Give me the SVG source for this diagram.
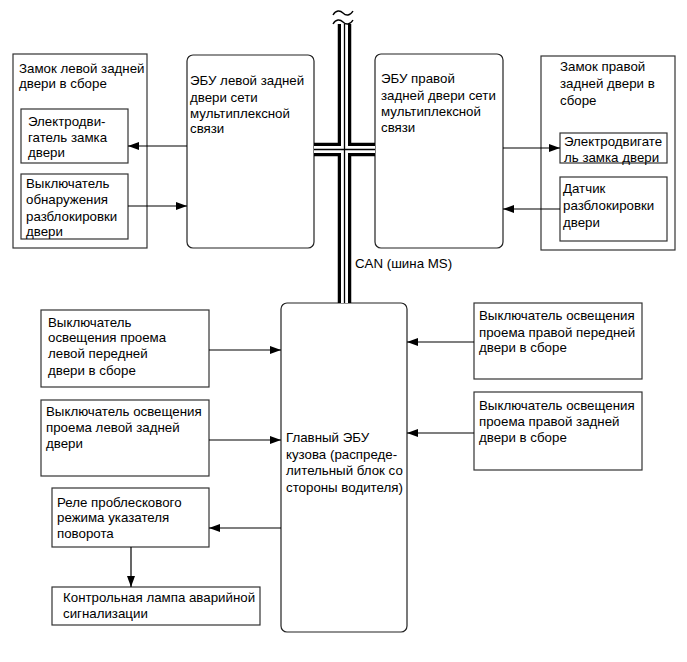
<svg xmlns="http://www.w3.org/2000/svg" width="687" height="662" viewBox="0 0 687 662">
<style>
  .box { fill: #fff; stroke: #333; stroke-width: 1.2; }
  .ecu { fill: #fff; stroke: #222; stroke-width: 1.2; }
  .t { font-family: "Liberation Sans", Arial, sans-serif; font-size: 13.3px; fill: #000; }
  .arr { stroke: #000; stroke-width: 1.2; fill: none; marker-end: url(#ah); }
  .busB { stroke: #000; fill: none; }
  .busW { stroke: #fff; fill: none; }
  .sq { stroke: #000; stroke-width: 1.4; fill: none; }
</style>
<defs>
  <marker id="ah" markerUnits="userSpaceOnUse" markerWidth="12" markerHeight="8" refX="11" refY="4" orient="auto">
    <path d="M0,0 L11,4 L0,8 z" fill="#000"/>
  </marker>
</defs>
<rect width="687" height="662" fill="#fff"/>

<g id="left-lock">
  <rect class="box" x="13" y="54" width="134" height="194"/>
  <text class="t"><tspan x="19" y="73">Замок левой задней</tspan><tspan x="19" y="88">двери в сборе</tspan></text>
</g>
<g id="left-motor">
  <rect class="box" x="21" y="109" width="107" height="54"/>
  <text class="t"><tspan x="28" y="126">Электродви-</tspan><tspan x="28" y="142">гатель замка</tspan><tspan x="28" y="157">двери</tspan></text>
</g>
<g id="left-switch">
  <rect class="box" x="21" y="174" width="107" height="65"/>
  <text class="t"><tspan x="26" y="188">Выключатель</tspan><tspan x="26" y="204">обнаружения</tspan><tspan x="26" y="221">разблокировки</tspan><tspan x="26" y="236">двери</tspan></text>
</g>
<g id="left-ecu">
  <rect class="ecu" x="187" y="55" width="127" height="193" rx="6"/>
  <text class="t"><tspan x="190" y="85">ЭБУ левой задней</tspan><tspan x="190" y="102">двери сети</tspan><tspan x="190" y="118">мультиплексной</tspan><tspan x="190" y="133">связи</tspan></text>
</g>
<g id="right-ecu">
  <rect class="ecu" x="375" y="54" width="128" height="194" rx="6"/>
  <text class="t"><tspan x="381" y="83">ЭБУ правой</tspan><tspan x="381" y="100">задней двери сети</tspan><tspan x="381" y="116">мультиплексной</tspan><tspan x="381" y="132">связи</tspan></text>
</g>
<g id="right-lock">
  <rect class="box" x="541" y="56" width="134" height="194"/>
  <text class="t"><tspan x="560" y="71">Замок правой</tspan><tspan x="560" y="88">задней двери в</tspan><tspan x="560" y="105">сборе</tspan></text>
</g>
<g id="right-motor">
  <rect class="box" x="560" y="133" width="107" height="30"/>
  <text class="t"><tspan x="564" y="146">Электродвигате</tspan><tspan x="564" y="162">ль замка двери</tspan></text>
</g>
<g id="right-sensor">
  <rect class="box" x="560" y="177" width="107" height="64"/>
  <text class="t"><tspan x="563" y="193">Датчик</tspan><tspan x="563" y="210">разблокировки</tspan><tspan x="563" y="227">двери</tspan></text>
</g>
<g id="main-ecu">
  <rect class="ecu" x="281" y="303" width="126" height="329" rx="6"/>
  <text class="t"><tspan x="286" y="442">Главный ЭБУ</tspan><tspan x="286" y="459">кузова (распреде-</tspan><tspan x="286" y="475">лительный блок со</tspan><tspan x="286" y="492">стороны водителя)</tspan></text>
</g>
<g id="sw-left-front">
  <rect class="box" x="41" y="310" width="168" height="77"/>
  <text class="t"><tspan x="48" y="327">Выключатель</tspan><tspan x="48" y="342">освещения проема</tspan><tspan x="48" y="358">левой передней</tspan><tspan x="48" y="375">двери в сборе</tspan></text>
</g>
<g id="sw-left-rear">
  <rect class="box" x="41" y="400" width="168" height="76"/>
  <text class="t"><tspan x="46" y="416">Выключатель освещения</tspan><tspan x="46" y="432">проема левой задней</tspan><tspan x="46" y="448">двери</tspan></text>
</g>
<g id="sw-right-front">
  <rect class="box" x="474" y="303" width="168" height="76"/>
  <text class="t"><tspan x="479" y="320">Выключатель освещения</tspan><tspan x="479" y="337">проема правой передней</tspan><tspan x="479" y="352">двери в сборе</tspan></text>
</g>
<g id="sw-right-rear">
  <rect class="box" x="474" y="392" width="168" height="78"/>
  <text class="t"><tspan x="479" y="410">Выключатель освещения</tspan><tspan x="479" y="426">проема правой задней</tspan><tspan x="479" y="442">двери в сборе</tspan></text>
</g>
<g id="relay">
  <rect class="box" x="52" y="488" width="157" height="59"/>
  <text class="t"><tspan x="57" y="507">Реле проблескового</tspan><tspan x="57" y="522">режима указателя</tspan><tspan x="57" y="538">поворота</tspan></text>
</g>
<g id="hazard-lamp">
  <rect class="box" x="52" y="587" width="208" height="38"/>
  <text class="t"><tspan x="63" y="602">Контрольная лампа аварийной</tspan><tspan x="63" y="618">сигнализации</tspan></text>
</g>

<text class="t" x="355" y="268">CAN (шина MS)</text>

<g id="connectors">
  <g id="can-bus">
    <line class="busB" x1="344.5" y1="24" x2="344.5" y2="303" stroke-width="13.5"/>
    <line class="busB" x1="314" y1="149.5" x2="375" y2="149.5" stroke-width="13.5"/>
    <line class="busW" x1="344.5" y1="24" x2="344.5" y2="303" stroke-width="7"/>
    <line class="busW" x1="314" y1="149.5" x2="375" y2="149.5" stroke-width="7"/>
    <line class="busB" x1="344.5" y1="24" x2="344.5" y2="303" stroke-width="1.3"/>
    <line class="busB" x1="314" y1="149.5" x2="375" y2="149.5" stroke-width="1.3"/>
    <rect x="336" y="17" width="17" height="7" fill="#fff"/>
    <path class="sq" d="M333,15 c3,-5 7,-5 10,-2 s7,3 10,-2"/>
    <path class="sq" d="M333,24 c3,-5 7,-5 10,-2 s7,3 10,-2"/>
  </g>
  <line class="arr" x1="187" y1="146" x2="128" y2="146"/>
  <line class="arr" x1="128" y1="206" x2="187" y2="206"/>
  <line class="arr" x1="503" y1="148" x2="560" y2="148"/>
  <line class="arr" x1="560" y1="209" x2="503" y2="209"/>
  <line class="arr" x1="209" y1="350" x2="281" y2="350"/>
  <line class="arr" x1="209" y1="440" x2="281" y2="440"/>
  <line class="arr" x1="474" y1="342" x2="407" y2="342"/>
  <line class="arr" x1="474" y1="433" x2="407" y2="433"/>
  <line class="arr" x1="281" y1="528" x2="209" y2="528"/>
  <line class="arr" x1="131" y1="547" x2="131" y2="587"/>
</g>
</svg>
